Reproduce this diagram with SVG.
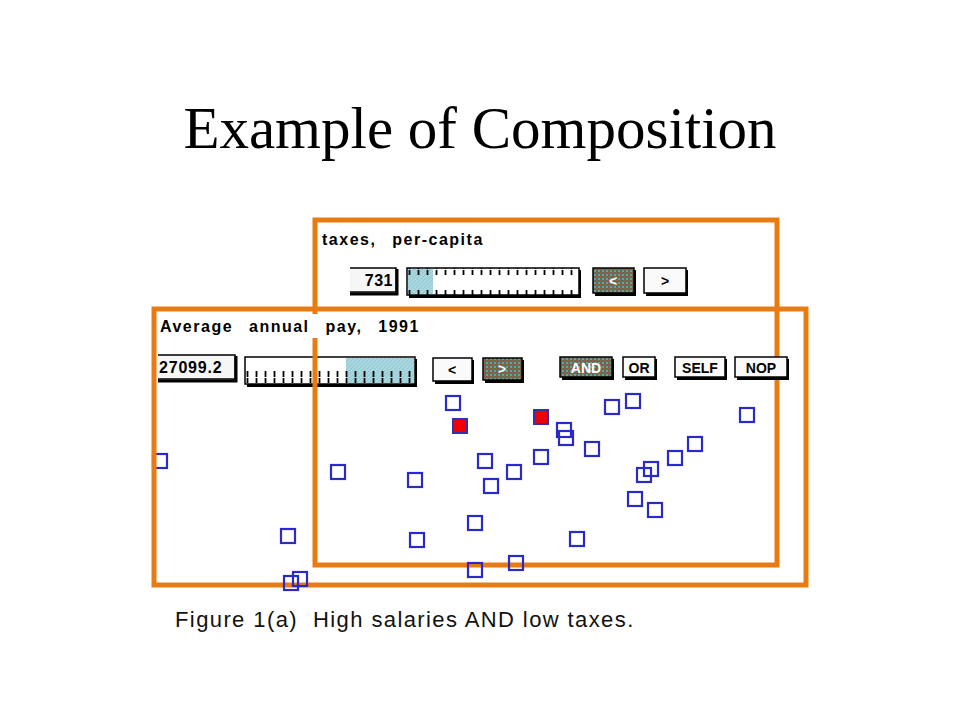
<svg xmlns="http://www.w3.org/2000/svg" width="960" height="720" viewBox="0 0 960 720">
<defs>
<pattern id="hatch" width="4" height="4" patternUnits="userSpaceOnUse">
<rect width="4" height="4" fill="#3f8050"/>
<rect x="0" y="0" width="2" height="2" fill="#b84848"/>
<rect x="2" y="2" width="2" height="2" fill="#8c8ca4"/>
</pattern>
<pattern id="blue" width="4" height="4" patternUnits="userSpaceOnUse">
<rect width="4" height="4" fill="#a8d6df"/>
<path d="M0 4 L4 0" stroke="#96c8d2" stroke-width="1"/>
</pattern>
<pattern id="ticks" x="0" y="0" width="9" height="27" patternUnits="userSpaceOnUse">
<line x1="4.5" y1="0" x2="4.5" y2="5" stroke="#000" stroke-width="1.8"/>
<line x1="4.5" y1="20" x2="4.5" y2="26" stroke="#000" stroke-width="1.8"/>
</pattern>
</defs>
<style>
.title{font-family:"Liberation Serif","Times New Roman",serif;font-size:59px;fill:#000}
.lbl{font-family:"Liberation Sans",Arial,sans-serif;font-weight:bold;font-size:16px;fill:#000;letter-spacing:1.5px;word-spacing:10px}
.val{font-family:"Liberation Sans",Arial,sans-serif;font-weight:bold;font-size:16px;fill:#000}
.btn{font-family:"Liberation Sans",Arial,sans-serif;font-weight:bold;font-size:14px;fill:#000;text-anchor:middle}
.btnw{font-family:"Liberation Sans",Arial,sans-serif;font-weight:bold;font-size:14px;fill:#fff;text-anchor:middle}
.cap{font-family:"Liberation Sans",Arial,sans-serif;font-size:22px;fill:#111;letter-spacing:1.4px}
.frame{fill:none;stroke:#e87c12;stroke-width:5}
.pt{fill:none;stroke:#2a2ac8;stroke-width:2.2}
.ptr{fill:#f00000;stroke:#3030b0;stroke-width:2}
.box{fill:#fafafa;stroke:#000;stroke-width:1.5}
.shadow{fill:#000}
</style>
<rect width="960" height="720" fill="#fff"/>
<text class="title" x="480" y="148" text-anchor="middle">Example of Composition</text>

<g id="point-left"><rect class="pt" x="153" y="454" width="14" height="14"/></g>

<g id="slider-taxes">
<rect class="shadow" x="409" y="270" width="172" height="28"/>
<rect x="407" y="268" width="172" height="27" fill="#fff" stroke="#000" stroke-width="1.5"/>
<rect x="408" y="269" width="25" height="25" fill="url(#blue)"/>
<rect x="408" y="268" width="170" height="27" fill="url(#ticks)"/>
</g>
<g id="slider-pay">
<rect class="shadow" x="247" y="359" width="170" height="28"/>
<rect x="245" y="357" width="170" height="27" fill="#fff" stroke="#000" stroke-width="1.5"/>
<rect x="346" y="358" width="68" height="25" fill="url(#blue)"/>
<rect x="246" y="357" width="168" height="27" fill="url(#ticks)"/>
</g>

<g id="frames">
<rect id="frame-pay" class="frame" x="154" y="309" width="652" height="276"/>
<rect id="frame-taxes" class="frame" x="315" y="220" width="462" height="345"/>
</g>

<g id="panel-taxes">
<text class="lbl" x="322" y="245">taxes, per-capita</text>
<g id="val-taxes">
<rect x="350" y="268" width="46" height="24" fill="#f6f6f6"/>
<path d="M350 268 H396 V292 H350" fill="none" stroke="#000" stroke-width="1.5"/>
<path d="M397 269 V294 H350" fill="none" stroke="#000" stroke-width="3"/>
<text class="val" x="393" y="286" text-anchor="end" letter-spacing="0.5">731</text>
</g>
<g id="btn-taxes-left">
<rect class="shadow" x="595" y="270" width="41" height="26"/>
<rect x="593" y="268" width="41" height="25" fill="url(#hatch)" stroke="#000" stroke-width="1.5"/>
<text class="btnw" x="613" y="286">&lt;</text>
</g>
<g id="btn-taxes-right">
<rect class="shadow" x="646" y="270" width="42" height="26"/>
<rect x="644" y="268" width="42" height="25" class="box"/>
<text class="btn" x="665" y="286">&gt;</text>
</g>
</g>

<g id="panel-pay">
<rect x="157" y="314" width="272" height="24" fill="#fff"/>
<text class="lbl" x="160" y="332">Average annual pay, 1991</text>
<g id="val-pay">
<rect x="158" y="355" width="78" height="24" fill="#f6f6f6"/>
<path d="M158 355 H235 V379 H158" fill="none" stroke="#000" stroke-width="1.5"/>
<path d="M236 356 V381 H158" fill="none" stroke="#000" stroke-width="3"/>
<text class="val" x="159" y="373" letter-spacing="0.8">27099.2</text>
</g>
<g id="btn-pay-left">
<rect class="shadow" x="435" y="360" width="39" height="24"/>
<rect x="433" y="358" width="39" height="23" class="box"/>
<text class="btn" x="452" y="375">&lt;</text>
</g>
<g id="btn-pay-right">
<rect class="shadow" x="485" y="360" width="39" height="23"/>
<rect x="483" y="358" width="39" height="22" fill="url(#hatch)" stroke="#000" stroke-width="1.5"/>
<text class="btnw" x="502" y="374">&gt;</text>
</g>
<g id="btn-and">
<rect class="shadow" x="562" y="359" width="52" height="21"/>
<rect x="560" y="357" width="52" height="20" fill="url(#hatch)" stroke="#000" stroke-width="1.5"/>
<text class="btnw" x="586" y="373">AND</text>
</g>
<g id="btn-or">
<rect class="shadow" x="625" y="359" width="32" height="21"/>
<rect x="623" y="357" width="32" height="20" class="box"/>
<text class="btn" x="639" y="373">OR</text>
</g>
<g id="btn-self">
<rect class="shadow" x="677" y="359" width="50" height="21"/>
<rect x="675" y="357" width="50" height="20" class="box"/>
<text class="btn" x="700" y="373">SELF</text>
</g>
<g id="btn-nop">
<rect class="shadow" x="737" y="359" width="52" height="21"/>
<rect x="735" y="357" width="52" height="20" class="box"/>
<text class="btn" x="761" y="373">NOP</text>
</g>
</g>

<g id="points">
<rect class="pt" x="446" y="396" width="14" height="14"/>
<rect class="pt" x="605" y="400" width="14" height="14"/>
<rect class="pt" x="626" y="394" width="14" height="14"/>
<rect class="pt" x="740" y="408" width="14" height="14"/>
<rect class="pt" x="557" y="423" width="14" height="14"/>
<rect class="pt" x="559" y="431" width="14" height="14"/>
<rect class="pt" x="585" y="442" width="14" height="14"/>
<rect class="pt" x="534" y="450" width="14" height="14"/>
<rect class="pt" x="478" y="454" width="14" height="14"/>
<rect class="pt" x="507" y="465" width="14" height="14"/>
<rect class="pt" x="484" y="479" width="14" height="14"/>
<rect class="pt" x="688" y="437" width="14" height="14"/>
<rect class="pt" x="668" y="451" width="14" height="14"/>
<rect class="pt" x="644" y="462" width="14" height="14"/>
<rect class="pt" x="637" y="468" width="14" height="14"/>
<rect class="pt" x="628" y="492" width="14" height="14"/>
<rect class="pt" x="648" y="503" width="14" height="14"/>
<rect class="pt" x="331" y="465" width="14" height="14"/>
<rect class="pt" x="408" y="473" width="14" height="14"/>
<rect class="pt" x="281" y="529" width="14" height="14"/>
<rect class="pt" x="410" y="533" width="14" height="14"/>
<rect class="pt" x="468" y="516" width="14" height="14"/>
<rect class="pt" x="468" y="563" width="14" height="14"/>
<rect class="pt" x="570" y="532" width="14" height="14"/>
<rect class="pt" x="509" y="556" width="14" height="14"/>
<rect class="pt" x="293" y="572" width="14" height="14"/>
<rect class="pt" x="284" y="576" width="14" height="14"/>
<rect class="ptr" x="453" y="419" width="14" height="14"/>
<rect class="ptr" x="534" y="410" width="14" height="14"/>
</g>

<text class="cap" x="175" y="627" xml:space="preserve">Figure 1(a)  High salaries AND low taxes.</text>
</svg>
